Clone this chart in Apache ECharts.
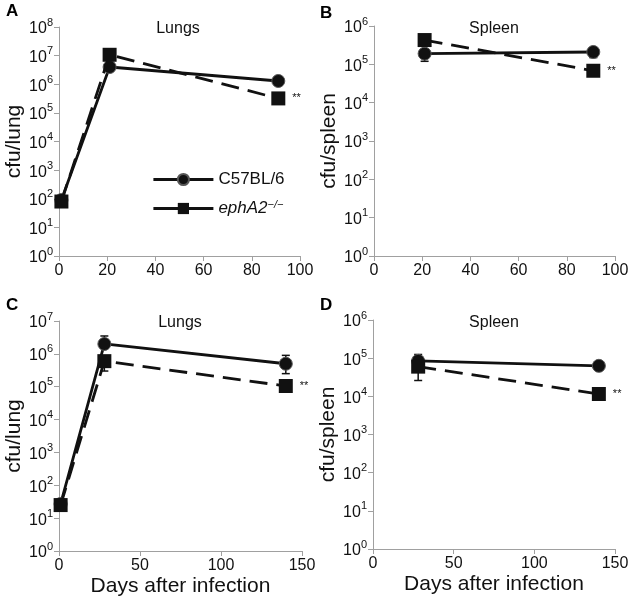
<!DOCTYPE html>
<html><head><meta charset="utf-8">
<script src="https://cdn.jsdelivr.net/npm/echarts@6/dist/echarts.min.js"></script>
<style>html,body{margin:0;padding:0;background:#fff}#c{width:632px;height:600px}</style>
</head><body><div id="c"></div>
<script>
// ---- data ----
const daysA = [1, 21, 91];
const lungA_C57 = [90, 4.0e6, 1.3e6];
const lungA_eph = [80, 1.07e7, 3.2e5];
const daysB = [21, 91];
const spleenB_C57 = [1.9e5, 2.1e5];
const spleenB_eph = [4.3e5, 6.8e4];
const daysC = [1, 28, 140];
const lungC_C57 = [27, 2.0e6, 5.0e5];
const lungC_eph = [25, 6.0e5, 1.05e5];
const daysD = [28, 140];
const spleenD_C57 = [8.5e4, 6.3e4];
const spleenD_eph = [6.0e4, 1.15e4];
// error bars [day, low, high]
const errB_C57 = [[21, 1.2e5, 1.9e5], [91, 1.5e5, 2.1e5]];
const errB_eph = [[21, 3.1e5, 4.3e5]];
const errC_C57 = [[28, 2.0e6, 3.5e6], [140, 2.5e5, 9.0e5]];
const errC_eph = [[28, 3.0e5, 6.0e5], [140, 1.05e5, 1.5e5]];
const errD_C57 = [[28, 8.5e4, 1.25e5]];
const errD_eph = [[28, 2.6e4, 6.0e4]];
const xTicksAB = {min: 0, max: 100, interval: 20};
const xTicksCD = {min: 0, max: 150, interval: 50};
const yMax = [1e8, 1e6, 1e7, 1e6];
const yNames = ['cfu/lung', 'cfu/spleen', 'cfu/lung', 'cfu/spleen'];
const panelTitles = ['Lungs', 'Spleen', 'Lungs', 'Spleen'];
const panelLetters = ['A', 'B', 'C', 'D'];
const NAME_WT = 'C57BL/6';
const NAME_KO = 'ephA2−/−';

const FONT = '"Liberation Sans", Arial, Helvetica, sans-serif';
const grids = [
  {left: 59, top: 27, width: 241, height: 229},
  {left: 374, top: 26, width: 241, height: 230},
  {left: 59, top: 321, width: 243, height: 230},
  {left: 373, top: 320, width: 242, height: 229}
];

function pairs(xs, ys) { return xs.map((x, i) => [x, ys[i]]); }
function starred(xs, ys) {
  return xs.map((x, i) => {
    const item = {value: [x, ys[i]]};
    if (i === xs.length - 1) item.label = {show: true, position: 'right', distance: 7, formatter: '**', fontSize: 11, color: '#111', fontFamily: FONT};
    return item;
  });
}

const axisLine = {lineStyle: {color: '#a0a0a0', width: 1}};
const xAxes = grids.map((g, i) => Object.assign({
  type: 'value', gridIndex: i,
  axisLine: Object.assign({onZero: false}, axisLine),
  axisTick: {show: true, length: 5, lineStyle: {color: '#a0a0a0'}},
  splitLine: {show: false},
  axisLabel: {fontSize: 16, color: '#111', fontFamily: FONT, margin: 7},
  name: i >= 2 ? 'Days after infection' : '',
  nameLocation: 'middle', nameGap: 25,
  nameTextStyle: {fontSize: 21, color: '#111', fontFamily: FONT}
}, i < 2 ? xTicksAB : xTicksCD));

const yAxes = grids.map((g, i) => ({
  type: 'log', logBase: 10, gridIndex: i, min: 1, max: yMax[i],
  splitNumber: Math.round(Math.log10(yMax[i])),
  axisLine: Object.assign({show: true}, axisLine),
  axisTick: {show: true, length: 5, lineStyle: {color: '#a0a0a0'}},
  splitLine: {show: false}, minorTick: {show: false},
  axisLabel: {
    margin: 6, color: '#111', fontFamily: FONT,
    formatter: v => '{b|10}{s|' + Math.round(Math.log10(v)) + '}',
    rich: {
      b: {fontSize: 16, lineHeight: 20, color: '#111', fontFamily: FONT, verticalAlign: 'bottom'},
      s: {fontSize: 11, lineHeight: 20, color: '#111', fontFamily: FONT, verticalAlign: 'top', padding: [0, 0, 6, 0]}
    }
  },
  name: yNames[i], nameLocation: 'middle', nameGap: 34,
  nameTextStyle: {fontSize: 21, color: '#111', fontFamily: FONT}
}));

function lineSeries(i, name, xs, ys, dashed) {
  return {
    type: 'line', name: name, xAxisIndex: i, yAxisIndex: i,
    data: dashed ? starred(xs, ys) : pairs(xs, ys),
    symbol: dashed ? 'rect' : 'circle',
    symbolSize: dashed ? 14 : 13,
    itemStyle: {color: '#111', borderColor: dashed ? '#111' : '#555', borderWidth: dashed ? 0 : 1},
    lineStyle: {color: '#111', width: 2.8, type: dashed ? [18, 9] : 'solid'},
    z: dashed ? 4 : 3,
    animation: false
  };
}
function errSeries(i, data) {
  return {
    type: 'custom', xAxisIndex: i, yAxisIndex: i, data: data, z: 2, silent: true,
    encode: {x: 0, y: [1, 2]},
    renderItem: function (params, api) {
      const x = api.value(0);
      const lo = api.coord([x, api.value(1)]);
      const hi = api.coord([x, api.value(2)]);
      const st = {stroke: '#111', lineWidth: 1.5};
      return {type: 'group', children: [
        {type: 'line', shape: {x1: lo[0], y1: lo[1], x2: hi[0], y2: hi[1]}, style: st},
        {type: 'line', shape: {x1: lo[0] - 4, y1: lo[1], x2: lo[0] + 4, y2: lo[1]}, style: st},
        {type: 'line', shape: {x1: hi[0] - 4, y1: hi[1], x2: hi[0] + 4, y2: hi[1]}, style: st}
      ]};
    },
    animation: false
  };
}

const series = [
  lineSeries(0, NAME_WT, daysA, lungA_C57, false),
  lineSeries(0, NAME_KO, daysA, lungA_eph, true),
  errSeries(1, errB_C57), errSeries(1, errB_eph),
  lineSeries(1, NAME_WT, daysB, spleenB_C57, false),
  lineSeries(1, NAME_KO, daysB, spleenB_eph, true),
  errSeries(2, errC_C57), errSeries(2, errC_eph),
  lineSeries(2, NAME_WT, daysC, lungC_C57, false),
  lineSeries(2, NAME_KO, daysC, lungC_eph, true),
  errSeries(3, errD_C57), errSeries(3, errD_eph),
  lineSeries(3, NAME_WT, daysD, spleenD_C57, false),
  lineSeries(3, NAME_KO, daysD, spleenD_eph, true)
];

const titlePos = [[178, 29], [494, 29], [180, 323], [494, 323]];
const letterPos = [[6, 3], [320, 5], [6, 297], [320, 297]];
const graphic = [];
panelTitles.forEach((t, i) => graphic.push({type: 'text', x: titlePos[i][0], y: titlePos[i][1],
  style: {text: t, fill: '#111', font: '16px ' + FONT, textAlign: 'center', textVerticalAlign: 'middle'}}));
panelLetters.forEach((t, i) => graphic.push({type: 'text', x: letterPos[i][0], y: letterPos[i][1],
  style: {text: t, fill: '#000', font: 'bold 17px ' + FONT}}));

const chart = echarts.init(document.getElementById('c'), null, {renderer: 'canvas'});
chart.setOption({
  backgroundColor: '#fff',
  animation: false,
  grid: grids,
  xAxis: xAxes,
  yAxis: yAxes,
  legend: {
    left: 147, top: 166, orient: 'vertical', itemGap: 11, itemWidth: 60, itemHeight: 14,
    data: [NAME_WT, NAME_KO],
    lineStyle: {type: 'solid', width: 2.8, color: '#111'},
    selectedMode: false,
    textStyle: {fontSize: 17, color: '#111', fontFamily: FONT,
      rich: {
        i: {fontSize: 17, fontStyle: 'italic', color: '#111', fontFamily: FONT},
        s: {fontSize: 11, fontStyle: 'italic', color: '#111', fontFamily: FONT, verticalAlign: 'top', padding: [0, 0, 8, 0]}
      }},
    formatter: n => n === NAME_KO ? '{i|ephA2}{s|−/−}' : n
  },
  graphic: graphic,
  series: series
});
</script></body></html>
